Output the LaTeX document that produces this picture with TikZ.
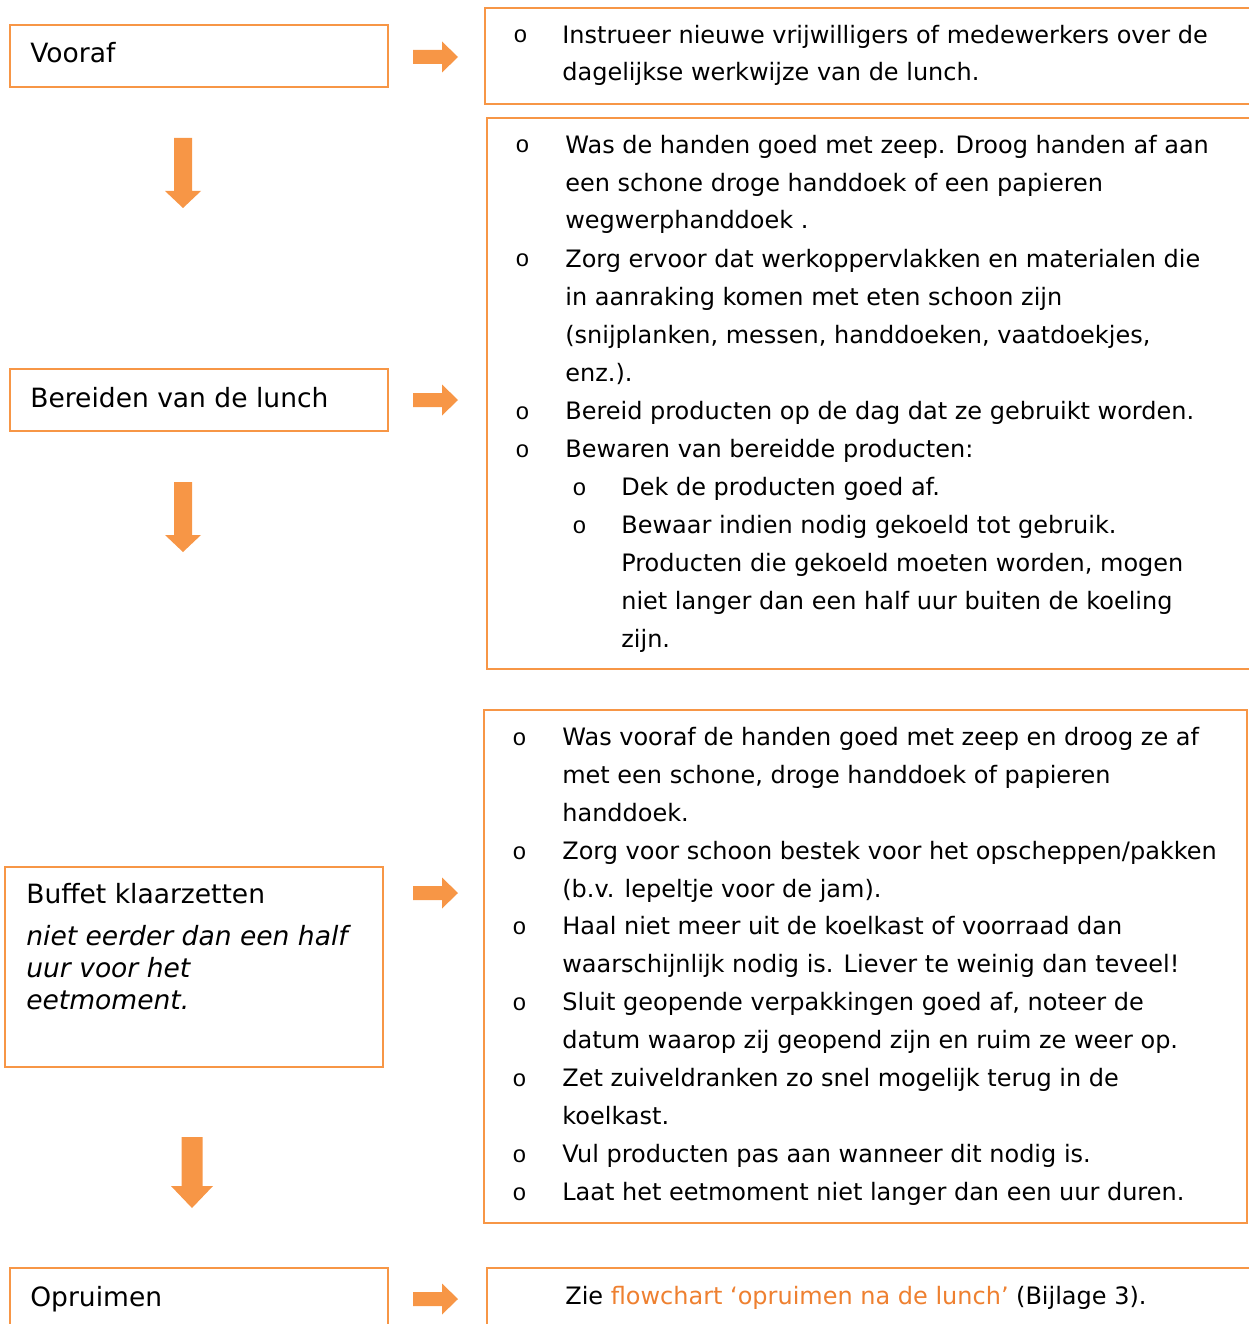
\documentclass[tikz,border=0pt]{standalone}
\usepackage{fontspec}
\setmainfont{DejaVu Sans}
\newfontfamily\bulletfont{Liberation Mono}
\definecolor{flow}{HTML}{F79646}
\definecolor{linkcol}{RGB}{238,128,48}
\tikzset{
  box/.style={draw=flow, line width=1.1pt},
  stage/.style={anchor=base west, inner sep=0pt, font=\fontsize{15.1}{18}\selectfont},
  note/.style={anchor=base west, inner sep=0pt, align=left, font=\fontsize{15.1}{18.1}\selectfont\itshape},
  item/.style={anchor=base west, inner sep=0pt, align=left, font=\fontsize{13.65}{21.5}\selectfont},
  bul/.style={anchor=base west, inner sep=0pt, font=\bulletfont\fontsize{13.5}{14}\selectfont},
}
\begin{document}
\begin{tikzpicture}[x=0.02cm, y=-0.02cm]
  \useasboundingbox (0,0) rectangle (1248,1324);

  % left column: the stages
  % (multi-line nodes sit on the baseline of their last line)
  \draw[box] (10,25) rectangle (388,87);
     \node[stage] (vooraf) at (30,63) {Vooraf};
  \draw[box] (10,369) rectangle (388,431);
     \node[stage] (bereiden) at (30,407) {Bereiden van de lunch};
  \draw[box] (5,867) rectangle (383,1067);
     \node[stage] (buffet) at (26,903) {Buffet klaarzetten};
     \node[note] (tijd) at (26,1009) {niet eerder dan een half\\uur voor het\\eetmoment.};
  \draw[box] (10,1268) rectangle (388,1340);
     \node[stage] (opruimen) at (30,1306) {Opruimen};

  % arrows
  \foreach \y in {57,400,893,1299}
     \fill[flow] (413,\y-7) -- (442,\y-7) -- (442,\y-15.5) -- (458,\y)
        -- (442,\y+15.5) -- (442,\y+7) -- (413,\y+7) -- cycle;
  \foreach \x/\top/\neck/\tip/\w/\h in {183/138/191/208/9/18, 183/482/535/552/9/18, 192/1137/1186/1208/10.5/21}
     \fill[flow] (\x-\w,\top) -- (\x+\w,\top) -- (\x+\w,\neck) -- (\x+\h,\neck)
        -- (\x,\tip) -- (\x-\h,\neck) -- (\x-\w,\neck) -- cycle;

  % right column: what to do
  \draw[box] (485,8) rectangle (1256,104);
     \node[bul] (b1) at (513,43) {o};
     \node[item] (instrueer) at (562,81) {Instrueer nieuwe vrijwilligers of medewerkers over de\\dagelijkse werkwijze van de lunch.};

  \draw[box] (487,118) rectangle (1256,669);
     \node[bul] (b2) at (515,153) {o};
     \node[item] (handen) at (565,229) {Was de handen goed met zeep. Droog handen af aan\\een schone droge handdoek of een papieren\\wegwerphanddoek .};
     \node[bul] (b3) at (515,267) {o};
     \node[item] (werkvlak) at (565,381) {Zorg ervoor dat werkoppervlakken en materialen die\\in aanraking komen met eten schoon zijn\\(snijplanken, messen, handdoeken, vaatdoekjes,\\enz.).};
     \node[bul] (b4) at (515,419) {o};
     \node[item] (bereid) at (565,419) {Bereid producten op de dag dat ze gebruikt worden.};
     \node[bul] (b5) at (515,457) {o};
     \node[item] (bewaren) at (565,457) {Bewaren van bereidde producten:};
     \node[bul] (b6) at (572,495) {o};
     \node[item] (dek) at (621,495) {Dek de producten goed af.};
     \node[bul] (b7) at (572,533) {o};
     \node[item] (gekoeld) at (621,647) {Bewaar indien nodig gekoeld tot gebruik.\\Producten die gekoeld moeten worden, mogen\\niet langer dan een half uur buiten de koeling\\zijn.};

  \draw[box] (484,710) rectangle (1247,1223);
     \node[bul] (b8) at (512,745) {o};
     \node[item] (vooraf2) at (562,821) {Was vooraf de handen goed met zeep en droog ze af\\met een schone, droge handdoek of papieren\\handdoek.};
     \node[bul] (b9) at (512,859) {o};
     \node[item] (bestek) at (562,897) {Zorg voor schoon bestek voor het opscheppen/pakken\\(b.v. lepeltje voor de jam).};
     \node[bul] (b10) at (512,934) {o};
     \node[item] (koelkast) at (562,972) {Haal niet meer uit de koelkast of voorraad dan\\waarschijnlijk nodig is. Liever te weinig dan teveel!};
     \node[bul] (b11) at (512,1010) {o};
     \node[item] (sluit) at (562,1048) {Sluit geopende verpakkingen goed af, noteer de\\datum waarop zij geopend zijn en ruim ze weer op.};
     \node[bul] (b12) at (512,1086) {o};
     \node[item] (zuivel) at (562,1124) {Zet zuiveldranken zo snel mogelijk terug in de\\koelkast.};
     \node[bul] (b13) at (512,1162) {o};
     \node[item] (vul) at (562,1162) {Vul producten pas aan wanneer dit nodig is.};
     \node[bul] (b14) at (512,1200) {o};
     \node[item] (duur) at (562,1200) {Laat het eetmoment niet langer dan een uur duren.};

  \draw[box] (487,1268) rectangle (1256,1340);
     \node[item] (zie) at (565,1304) {Zie \textcolor{linkcol}{flowchart `opruimen na de lunch'} (Bijlage 3).};

\end{tikzpicture}
\end{document}
